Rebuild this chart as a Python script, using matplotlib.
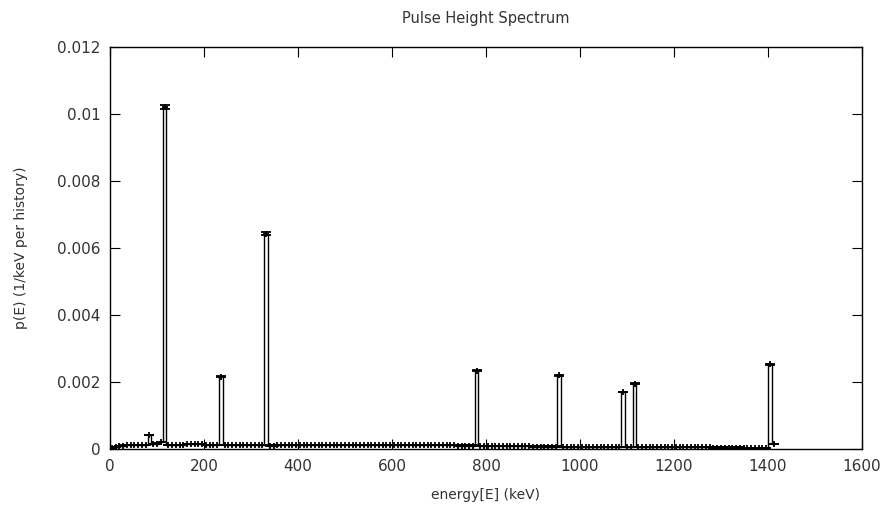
import numpy as np
import matplotlib
matplotlib.use("Agg")
import matplotlib.pyplot as plt
from matplotlib.ticker import FormatStrFormatter

# bin centres in keV (8 keV bins) and p(E) in units of 1e-4 1/keV per history
bin_start = 4
bin_width = 8
p_e4 = [
    0.3, 0.6, 0.8, 1.0, 1.2, 1.1, 1.1, 1.1, 1.1, 1.2,      # 4 - 76
    4.2, 1.4, 1.6, 2.0, 102.0, 1.2, 1.2, 1.2, 1.2, 1.2,    # 84 - 156
    1.5, 1.5, 1.5, 1.5, 1.5, 1.2, 1.2, 1.2, 1.2, 21.5,     # 164 - 236
    1.2, 1.2, 1.2, 1.2, 1.2, 1.2, 1.2, 1.2, 1.2, 1.2,      # 244 - 316
    1.2, 64.3, 1.0, 1.0, 1.1, 1.1, 1.1, 1.1, 1.1, 1.1,     # 324 - 396
    1.1, 1.1, 1.1, 1.1, 1.1, 1.1, 1.1, 1.1, 1.1, 1.1,      # 404 - 476
    1.1, 1.1, 1.1, 1.1, 1.1, 1.1, 1.1, 1.1, 1.1, 1.1,      # 484 - 556
    1.1, 1.1, 1.1, 1.1, 1.1, 1.1, 1.1, 1.1, 1.1, 1.1,      # 564 - 636
    1.1, 1.1, 1.1, 1.1, 1.1, 1.1, 1.1, 1.1, 1.1, 1.1,      # 644 - 716
    1.1, 1.1, 1.0, 1.0, 1.0, 1.0, 1.0, 23.3, 0.9, 0.9,     # 724 - 796
    0.9, 0.9, 0.9, 0.9, 0.9, 0.8, 0.8, 0.8, 0.8, 0.8,      # 804 - 876
    0.8, 0.8, 0.7, 0.7, 0.7, 0.7, 0.7, 0.7, 0.7, 22.0,     # 884 - 956
    0.6, 0.6, 0.6, 0.6, 0.6, 0.6, 0.6, 0.6, 0.6, 0.6,      # 964 - 1036
    0.6, 0.6, 0.6, 0.6, 0.6, 0.6, 17.0, 0.6, 0.6, 19.5,    # 1044 - 1116
    0.6, 0.6, 0.6, 0.5, 0.5, 0.5, 0.5, 0.5, 0.5, 0.5,      # 1124 - 1196
    0.5, 0.5, 0.5, 0.5, 0.5, 0.5, 0.5, 0.5, 0.5, 0.5,      # 1204 - 1276
    0.4, 0.4, 0.4, 0.4, 0.4, 0.4, 0.4, 0.4, 0.3, 0.3,      # 1284 - 1356
    0.3, 0.3, 0.3, 0.3, 0.3, 25.3, 1.5,                    # 1364 - 1412
]
rel_err = 0.005

y = np.array(p_e4) * 1e-4
x = bin_start + bin_width * np.arange(len(y))
yerr = y * rel_err + 5e-6

text_col = "#333333"
fig = plt.figure(figsize=(8.85, 5.21), dpi=100)
ax = fig.add_axes([0.1243, 0.1382, 0.8497, 0.7716])

ax.step(x, y, where="mid", color="black", lw=1.0)
ax.errorbar(x, y, yerr=yerr, fmt="+", color="black", ms=4, mew=1.3,
            elinewidth=1.3, capsize=3.5, capthick=2)

ax.set_xlim(0, 1600)
ax.set_ylim(0, 0.012)
ax.set_xticks(np.arange(0, 1601, 200))
ax.set_yticks(np.arange(0, 0.0121, 0.002))
ax.yaxis.set_major_formatter(FormatStrFormatter("%g"))
ax.tick_params(direction="in", length=7, top=True, right=True,
               labelsize=11, labelcolor=text_col, color="black", pad=7)
for s in ax.spines.values():
    s.set_linewidth(1.0)

ax.set_title("Pulse Height Spectrum", fontsize=10.5, pad=17, color=text_col)
ax.set_xlabel("energy[E] (keV)", fontsize=10, labelpad=10, color=text_col)
ax.set_ylabel("p(E) (1/keV per history)", fontsize=10, labelpad=21,
              color=text_col)

fig.savefig("out.png", dpi=100)
